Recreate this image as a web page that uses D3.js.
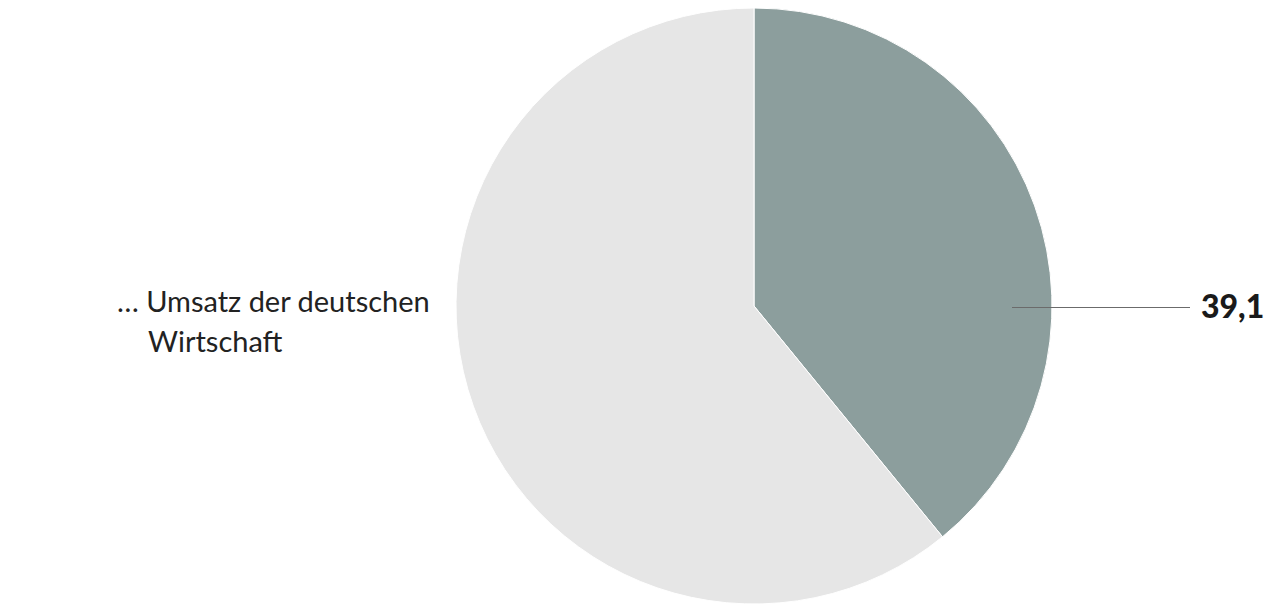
<!DOCTYPE html>
<html>
<head>
<meta charset="utf-8">
<script src="https://cdn.jsdelivr.net/npm/d3@7"></script>
<style>
body{margin:0;background:#fff;}
text{font-family:Lato,"Open Sans",sans-serif;}
</style>
</head>
<body>
<div id="chartplace"></div>
<script>
var categories = ["Anteil", "Rest"];
var values = [39.1, 60.9];
var colors = ["#8c9e9d", "#e6e6e6"];
var valueLabel = "39,1";
var titleLines = ["… Umsatz der deutschen", "Wirtschaft"];

var width = 1264, height = 606;
var radius = 298;
var cx = 754, cy = 306;

var svg = d3.select("#chartplace").append("svg")
	.attr("width", width)
	.attr("height", height);

var g = svg.append("g")
	.attr("transform", "translate(" + cx + "," + cy + ")");

var pie = d3.pie().sort(null).value(function(d){ return d; });
var arc = d3.arc().innerRadius(0).outerRadius(radius);

var arcs = pie(values);
g.selectAll(".fan")
	.data(arcs)
	.enter()
	.append("path")
	.attr("class", "fan")
	.attr("d", arc)
	.attr("fill", function(d, i){ return colors[i]; })
	.attr("stroke", "#fff")
	.attr("stroke-width", 1);

// Beschriftung für das dunkle Segment (waagrechte Linie auf Mittelhöhe)
g.append("line")
	.attr("x1", 258).attr("y1", 1.5)
	.attr("x2", 436).attr("y2", 1.5)
	.attr("stroke", "#6b6b6b")
	.attr("stroke-width", 1.2);
g.append("text")
	.attr("x", 447).attr("y", 12)
	.attr("font-size", 32)
	.attr("font-weight", 900)
	.attr("fill", "#1a1a1a")
	.text(valueLabel);

// linke Beschriftung
svg.append("text")
	.attr("x", 117).attr("y", 312)
	.attr("font-size", 29)
	.attr("fill", "#222")
	.text(titleLines[0]);
svg.append("text")
	.attr("x", 148).attr("y", 352)
	.attr("font-size", 29)
	.attr("fill", "#222")
	.text(titleLines[1]);
</script>
</body>
</html>
